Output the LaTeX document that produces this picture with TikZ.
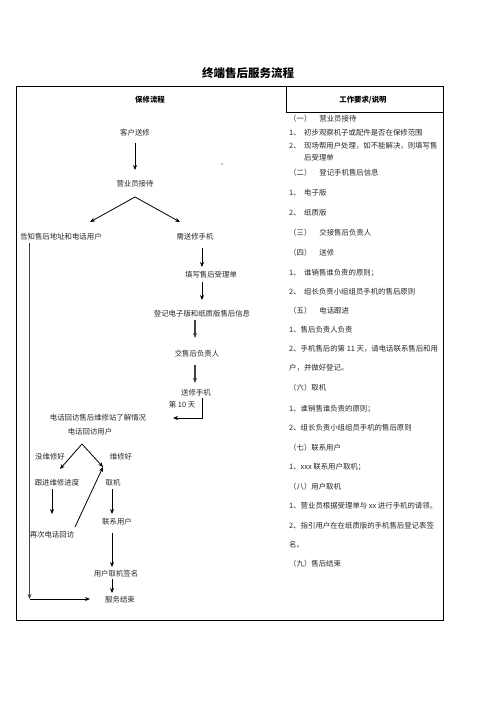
\documentclass[tikz,border=0pt]{standalone}
\usepackage{fontspec}
\setmainfont{Noto Sans CJK SC}
\usetikzlibrary{arrows.meta,calc}
\newcommand{\fsz}{\fontsize{7.4}{8.5}\selectfont}
\tikzset{
  txt/.style={inner sep=0pt, font=\fsz, text=black!85},
  rt/.style={txt, anchor=west},
  hd/.style={inner sep=0pt, font=\fsz\bfseries},
  arr/.style={-{Stealth[length=5pt,width=4pt]}, line width=0.8pt},
  garr/.style={arr, draw=black!75, line width=1.2pt},
  frame/.style={line width=1pt},
}
\begin{document}
\begin{tikzpicture}[x=1pt,y=-1pt]
\useasboundingbox (0,0) rectangle (496,702);
% title and table
\node[inner sep=0pt, font=\fontsize{11.5}{13}\selectfont\bfseries] (title) at (248,73) {终端售后服务流程};
\draw[frame] (16,86) rectangle (443,620);
\draw[frame] (286,86) -- (286,112) -- (443,112);
\node[hd] (h1) at (150,100) {保修流程};
\node[hd] (h2) at (363,100) {工作要求/说明};

% flow nodes
\node[txt] (kh) at (135,133) {客户送修};
\node[txt] (yy) at (135,184) {营业员接待};
\node[txt] (gz) at (61,237) {告知售后地址和电话用户};
\node[txt] (xs) at (195,237) {需送修手机};
\node[txt] (tx) at (211,275) {填写售后受理单};
\node[txt] (dj) at (202,314) {登记电子版和纸质版售后信息};
\node[txt] (jf) at (197,354) {交售后负责人};
\node[txt] (sx) at (196,393) {送修手机};
\node[txt] (d10) at (182,405) {第 10 天};
\node[txt] (dh) at (98,418) {电话回访售后维修站了解情况};
\node[txt] (hf) at (90,432) {电话回访用户};
\node[txt] (mw) at (50,457) {没维修好};
\node[txt] (wx) at (121,457) {维修好};
\node[txt] (gj) at (57,483) {跟进维修进度};
\node[txt] (qj) at (113,483) {取机};
\node[txt] (zc) at (52,535) {再次电话回访};
\node[txt] (lx) at (117,522) {联系用户};
\node[txt] (yq) at (116,574) {用户取机签名};
\node[txt] (fw) at (120,600) {服务结束};
\fill (222,164) circle (0.7);
\coordinate (corner) at (29.5,599);

% connectors
\draw[arr] ($(kh)+(0,10)$) -- ($(yy)+(0,-14)$);
\draw[arr] ($(yy)+(0,13)$) -- ($(gz)+(29,-15)$);
\draw[arr] ($(yy)+(0,13)$) -- ($(xs)+(-15,-15)$);
\draw[garr] ($(gz)+(-31.5,6)$) -- (corner);
\draw[arr] (corner) -- ($(fw)+(-30,-1)$);
\draw[arr] ($(xs)+(7,11)$) -- ($(tx)+(-9,-8)$);
\draw[arr] ($(tx)+(-9,7)$) -- ($(dj)+(0,-14)$);
\draw[garr] ($(dj)+(-7,6)$) -- ($(jf)+(-2,-16)$);
\draw[garr] ($(jf)+(-2,11)$) -- ($(sx)+(-1,-10)$);
\draw[arr] ($(sx)+(6,5)$) |- ($(dh)+(75,0)$);
\draw[arr] ($(hf)+(-8,12)$) -- ($(mw)+(10,12)$);
\draw[arr] ($(hf)+(-8,12)$) -- ($(wx)+(-18,10)$);
\draw[arr] ($(gj)+(-5,6)$) -- ($(zc)+(0,-21)$);
\draw[arr] ($(qj)+(-1,6)$) -- ($(lx)+(-5,-8)$);
\draw[arr] ($(zc)+(23,-8)$) -- ($(wx)+(-18,10)$);
\draw[arr] ($(lx)+(-5,11)$) -- ($(yq)+(-4,-7)$);
\draw[arr] ($(yq)+(-4,5)$) -- ($(fw)+(-8,-7)$);

% right column
\node[rt] (r1) at (289,119) {（一）\hspace{8pt}营业员接待};
\node[rt] (r2) at (289,133) {1、\hspace{3.5pt}初步观察机子或配件是否在保修范围};
\node[rt] (r3) at (289,146) {2、\hspace{3.5pt}现场帮用户处理，如不能解决，则填写售};
\node[rt] (r4) at (304,158) {后受理单};
\node[rt] (r5) at (289,173) {（二）\hspace{8pt}登记手机售后信息};
\node[rt] (r6) at (289,193) {1、\hspace{3.5pt}电子版};
\node[rt] (r7) at (289,213) {2、\hspace{3.5pt}纸质版};
\node[rt] (r8) at (289,233) {（三）\hspace{8pt}交接售后负责人};
\node[rt] (r9) at (289,253) {（四）\hspace{8pt}送修};
\node[rt] (r10) at (289,273) {1、\hspace{3.5pt}谁销售谁负责的原则；};
\node[rt] (r11) at (289,292) {2、\hspace{3.5pt}组长负责小组组员手机的售后原则};
\node[rt] (r12) at (289,311) {（五）\hspace{8pt}电话跟进};
\node[rt] (r13) at (289,330) {1、售后负责人负责};
\node[rt] (r14) at (289,349) {2、手机售后的第 11 天，请电话联系售后和用};
\node[rt] (r15) at (289,368) {户，并做好登记。};
\node[rt] (r16) at (289,388) {（六）取机};
\node[rt] (r17) at (289,409) {1、谁销售谁负责的原则；};
\node[rt] (r18) at (289,428) {2、组长负责小组组员手机的售后原则};
\node[rt] (r19) at (289,448) {（七）联系用户};
\node[rt] (r20) at (289,467) {1、xxx 联系用户取机；};
\node[rt] (r21) at (289,487) {（八）用户取机};
\node[rt] (r22) at (289,506) {1、营业员根据受理单与 xx 进行手机的请领。};
\node[rt] (r23) at (289,526) {2、指引用户在在纸质版的手机售后登记表签};
\node[rt] (r24) at (289,545) {名。};
\node[rt] (r25) at (289,564) {（九）售后结束};
\end{tikzpicture}
\end{document}
